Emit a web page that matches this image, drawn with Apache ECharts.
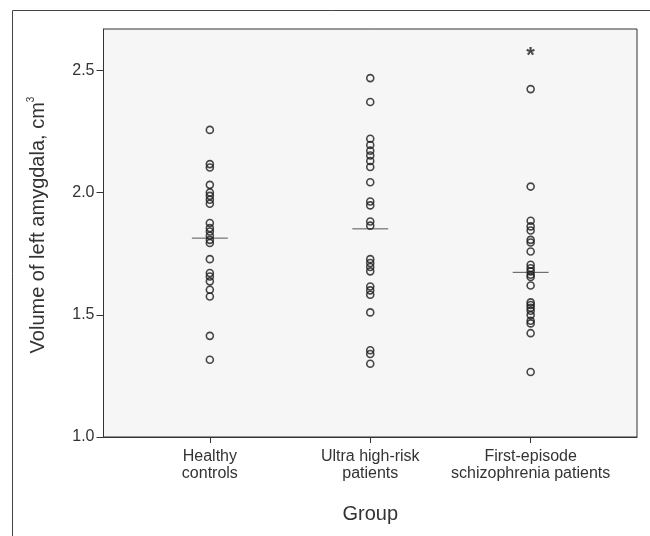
<!DOCTYPE html>
<html>
<head>
<meta charset="utf-8">
<script src="https://cdn.jsdelivr.net/npm/echarts@6/dist/echarts.min.js"></script>
<style>
html,body{margin:0;padding:0;background:#fff;}
#chart{width:650px;height:536px;}
</style>
</head>
<body>
<div id="chart"></div>
<script>
const categories = ['Healthy\ncontrols', 'Ultra high-risk\npatients', 'First-episode\nschizophrenia patients'];
const yTicks = [1.0, 1.5, 2.0, 2.5];
const healthy = [2.257, 2.117, 2.103, 2.032, 2.001, 1.987, 1.971, 1.955, 1.876, 1.855, 1.841, 1.824, 1.807, 1.794, 1.728, 1.671, 1.657, 1.637, 1.603, 1.575, 1.414, 1.316];
const ultraHighRisk = [2.469, 2.371, 2.221, 2.195, 2.172, 2.152, 2.13, 2.105, 2.043, 1.964, 1.948, 1.882, 1.865, 1.728, 1.712, 1.696, 1.678, 1.616, 1.600, 1.582, 1.51, 1.355, 1.34, 1.30];
const firstEpisode = [2.424, 2.025, 1.885, 1.862, 1.845, 1.807, 1.796, 1.759, 1.705, 1.691, 1.678, 1.664, 1.655, 1.620, 1.551, 1.540, 1.529, 1.517, 1.499, 1.476, 1.465, 1.425, 1.266];
const firstEpisodeOutliers = [2.58];
const medians = [1.814, 1.852, 1.674];

const groups = [healthy, ultraHighRisk, firstEpisode];
const pointData = [];
groups.forEach((g, i) => g.forEach(v => pointData.push([i + 1, v])));
const outlierData = firstEpisodeOutliers.map(v => [3, v]);
const halfW = 0.112;
const medianSeries = medians.map((m, i) => ({
  type: 'line',
  data: [[i + 1 - halfW, m], [i + 1 + halfW, m]],
  symbol: 'none',
  lineStyle: {color: '#555', width: 1},
  silent: true,
  z: 1
}));

const chart = echarts.init(document.getElementById('chart'), null, {renderer: 'canvas'});
const textColor = '#333';
chart.setOption({
  animation: false,
  backgroundColor: '#fff',
  graphic: [{
    type: 'rect',
    shape: {x: 12.5, y: 10.5, width: 700, height: 600},
    style: {fill: 'none', stroke: '#444', lineWidth: 1},
    z: -10
  }],
  grid: {
    left: 103.5, top: 29, right: 13, bottom: 99,
    show: true, backgroundColor: '#f6f6f6', borderColor: '#333', borderWidth: 1
  },
  xAxis: {
    type: 'value', min: 0.337, max: 3.663,
    name: 'Group', nameLocation: 'middle', nameGap: 67,
    nameTextStyle: {fontFamily: 'Liberation Sans', fontSize: 20, color: textColor},
    axisLine: {show: true, lineStyle: {color: '#333'}},
    axisTick: {show: true, customValues: [1, 2, 3], length: 6, lineStyle: {color: '#333'}},
    axisLabel: {
      customValues: [1, 2, 3], margin: 11,
      formatter: v => categories[Math.round(v) - 1] || '',
      fontFamily: 'Liberation Sans', fontSize: 16, color: textColor, lineHeight: 17
    },
    splitLine: {show: false}
  },
  yAxis: {
    type: 'value', min: 1.0, max: 2.67,
    name: '{a|Volume of left amygdala, cm}{s|3}',
    nameLocation: 'middle', nameGap: 55, nameRotate: 90,
    nameTextStyle: {
      padding: [0, 0, 0, 16],
      rich: {
        a: {fontFamily: 'Liberation Sans', fontSize: 20, color: textColor, lineHeight: 22, verticalAlign: 'bottom'},
        s: {fontFamily: 'Liberation Sans', fontSize: 10, color: textColor, lineHeight: 22, verticalAlign: 'top'}
      }
    },
    axisLine: {show: true, lineStyle: {color: '#333'}},
    axisTick: {show: true, customValues: yTicks, length: 7, lineStyle: {color: '#333'}},
    axisLabel: {
      customValues: yTicks, margin: 9,
      formatter: v => v.toFixed(1),
      fontFamily: 'Liberation Sans', fontSize: 16, color: textColor
    },
    splitLine: {show: false}
  },
  series: [
    {
      type: 'scatter',
      data: pointData,
      symbol: 'circle', symbolSize: 7,
      itemStyle: {color: 'rgba(0,0,0,0)', borderColor: '#1a1a1a', borderWidth: 1.6},
      z: 3
    },
    {
      type: 'scatter',
      data: outlierData,
      symbol: 'circle', symbolSize: 1,
      itemStyle: {color: 'rgba(0,0,0,0)'},
      label: {
        show: true, position: 'inside', formatter: '*',
        fontFamily: 'Liberation Sans', fontSize: 22, fontWeight: 'bold', color: '#1a1a1a',
        offset: [0, 5]
      },
      z: 3
    }
  ].concat(medianSeries)
});
</script>
</body>
</html>
